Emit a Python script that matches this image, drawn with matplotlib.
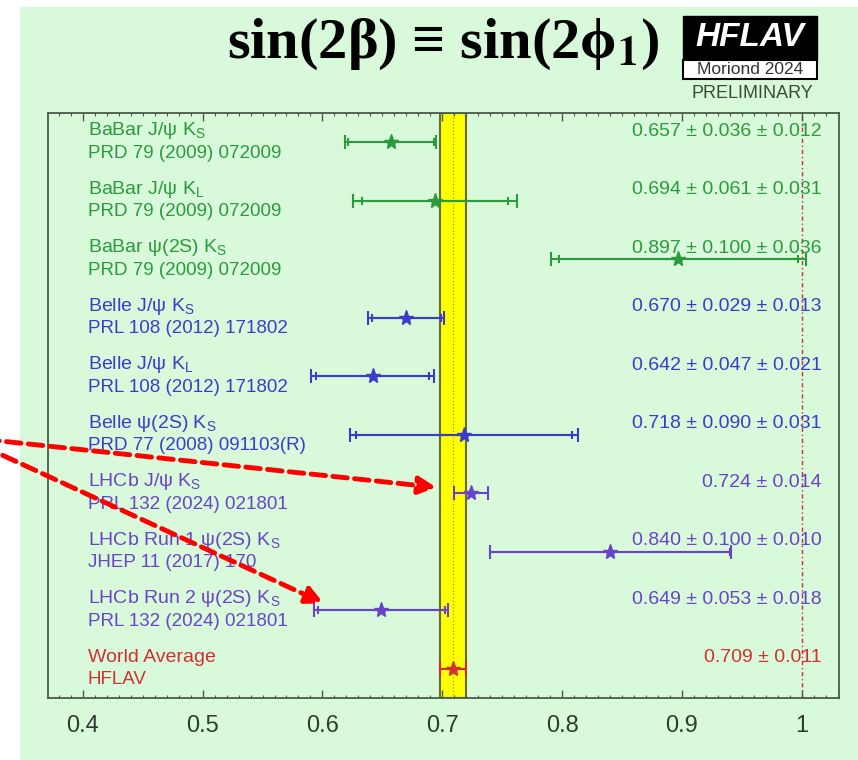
import numpy as np
import matplotlib
matplotlib.use("Agg")
import matplotlib.pyplot as plt
from matplotlib.patches import Rectangle

plt.rcParams["font.family"] = ["Liberation Sans", "DejaVu Sans"]
plt.rcParams["mathtext.fontset"] = "custom"
plt.rcParams["mathtext.rm"] = "Liberation Sans"
plt.rcParams["mathtext.it"] = "Liberation Sans:italic"

# --- data (top to bottom) ---
names = ["BaBar J/ψ K$_\\mathrm{S}$", "BaBar J/ψ K$_\\mathrm{L}$", "BaBar ψ(2S) K$_\\mathrm{S}$",
         "Belle J/ψ K$_\\mathrm{S}$", "Belle J/ψ K$_\\mathrm{L}$", "Belle ψ(2S) K$_\\mathrm{S}$",
         "LHCb J/ψ K$_\\mathrm{S}$", "LHCb Run 1 ψ(2S) K$_\\mathrm{S}$",
         "LHCb Run 2 ψ(2S) K$_\\mathrm{S}$", "World Average"]
refs = ["PRD 79 (2009) 072009", "PRD 79 (2009) 072009", "PRD 79 (2009) 072009",
        "PRL 108 (2012) 171802", "PRL 108 (2012) 171802", "PRD 77 (2008) 091103(R)",
        "PRL 132 (2024) 021801", "JHEP 11 (2017) 170", "PRL 132 (2024) 021801", "HFLAV"]
central = [0.657, 0.694, 0.897, 0.670, 0.642, 0.718, 0.724, 0.840, 0.649, 0.709]
stat = [0.036, 0.061, 0.100, 0.029, 0.047, 0.090, 0.014, 0.100, 0.053, 0.011]
syst = [0.012, 0.031, 0.036, 0.013, 0.021, 0.031, None, 0.010, 0.018, None]
groups = ["BaBar"] * 3 + ["Belle"] * 3 + ["LHCb"] * 3 + ["HFLAV"]
group_colors = {"BaBar": "#2a9a3c", "Belle": "#3c3ccc", "LHCb": "#6a44c8", "HFLAV": "#d03030"}
avg, avg_err = 0.709, 0.011

bg = "#d8fadb"
fig = plt.figure(figsize=(8.58, 7.6), dpi=100, facecolor="white")
fig.patches.append(Rectangle((20 / 858, 0), 1, 753 / 760, transform=fig.transFigure,
                             facecolor=bg, edgecolor="none", zorder=-10))
ax = fig.add_axes([48 / 858, 62 / 760, 791 / 858, 585 / 760])
ax.set_facecolor(bg)

n = len(names)
ys = np.arange(n, 0, -1)

# world average band
ax.axvspan(avg - avg_err, avg + avg_err, facecolor="#ffff00", edgecolor="#6b6b30", lw=1.5, zorder=1)
ax.axvline(avg, color="#8a8a40", lw=0.8, ls=(0, (1, 2)), zorder=1.5)
ax.axvline(1.0, color="#c83030", lw=1.0, ls=(0, (3, 2, 1, 2)), zorder=1.5)

for i in range(n):
    c = group_colors[groups[i]]
    y = ys[i]
    x = central[i]
    if syst[i] is None:
        tot = stat[i]
        val = f"{x:.3f} ± {stat[i]:.3f}"
    else:
        tot = np.hypot(stat[i], syst[i])
        val = f"{x:.3f} ± {stat[i]:.3f} ± {syst[i]:.3f}"
        ax.errorbar(x, y, xerr=stat[i], fmt="none", ecolor=c, elinewidth=1.5,
                    capsize=3, capthick=1.5, zorder=3)
    ax.errorbar(x, y, xerr=tot, fmt="*", color=c, ecolor=c, elinewidth=1.5,
                capsize=5, capthick=1.5, markersize=11, zorder=4)
    ax.text(0.05, y + 0.2, names[i], transform=ax.get_yaxis_transform(), color=c,
            fontsize=14, ha="left", va="center", zorder=5)
    ax.text(0.05, y - 0.19, refs[i], transform=ax.get_yaxis_transform(), color=c,
            fontsize=13.5, ha="left", va="center", zorder=5)
    ax.text(0.9785, y + 0.19, val, transform=ax.get_yaxis_transform(), color=c,
            fontsize=14, ha="right", va="center", zorder=5)

ax.set_xlim(0.371, 1.031)
ax.set_ylim(0.5, n + 0.5)
ax.set_xticks([0.4, 0.5, 0.6, 0.7, 0.8, 0.9, 1.0])
ax.set_xticklabels(["0.4", "0.5", "0.6", "0.7", "0.8", "0.9", "1"])
ax.set_xticks(np.arange(0.38, 1.031, 0.01), minor=True)
ax.set_yticks([])
ax.tick_params(axis="x", which="major", direction="in", length=6, width=1, top=True,
               labelsize=17, labelcolor="#2e3e2e", color="#4a5a4a", pad=12)
ax.tick_params(axis="x", which="minor", direction="in", length=2.5, width=0.8, top=True,
               color="#4a5a4a")
for s in ax.spines.values():
    s.set_color("#4a5a4a")
    s.set_linewidth(1.3)

# red dashed arrows from outside the left edge
start = (-37, 323)
for tip in [(0.695, 4.1), (0.601, 2.12)]:
    ax.annotate("", xy=tip, xycoords="data", xytext=start, textcoords="figure pixels",
                arrowprops=dict(arrowstyle="-|>", color="#ff0000", lw=3.5, ls=(0, (3, 1.5)),
                                mutation_scale=26, shrinkA=0, shrinkB=0),
                annotation_clip=False, zorder=6)

# title
fig.text(443 / 858, 1 - 44 / 760, "sin(2β) ≡ sin(2ϕ$_\\mathbf{1}$)",
         family=["Liberation Serif", "DejaVu Serif"], fontweight="bold", fontsize=42,
         ha="center", va="center", color="black", math_fontfamily="stix")

# HFLAV logo
fig.patches.append(Rectangle((683 / 858, 1 - 60 / 760), 134 / 858, 44 / 760,
                             transform=fig.transFigure, facecolor="black", edgecolor="black"))
fig.patches.append(Rectangle((683 / 858, 1 - 79 / 760), 134 / 858, 19 / 760,
                             transform=fig.transFigure, facecolor="white", edgecolor="black", lw=1.5))
fig.text(750 / 858, 1 - 38 / 760, "HFLAV", color="white", fontsize=24, fontweight="bold",
         fontstyle="italic", ha="center", va="center")
fig.text(750 / 858, 1 - 69.5 / 760, "Moriond 2024", color="#333333", fontsize=12.5,
         ha="center", va="center", fontstretch="condensed")
fig.text(752 / 858, 1 - 94 / 760, "PRELIMINARY", color="#3a4a3a", fontsize=13,
         ha="center", va="center")

fig.savefig("out.png", dpi=100, facecolor="white")
